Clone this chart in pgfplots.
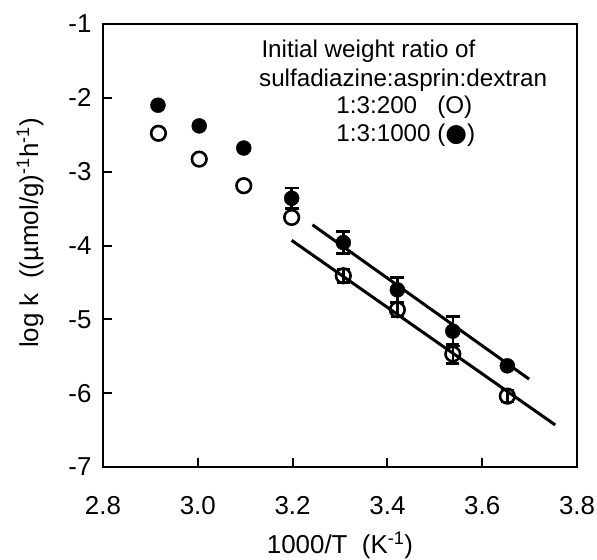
\documentclass[border=0pt]{standalone}
\usepackage{fontspec}
\setmainfont{Liberation Sans}
\newfontfamily\dejavu{DejaVu Sans}
\usepackage{pgfplots}
\pgfplotsset{compat=1.18}
\begin{document}
\begin{tikzpicture}
\useasboundingbox (-103bp,-93bp) rectangle (494bp,467bp);
\begin{axis}[
  width=474bp, height=443bp, scale only axis,
  xmin=2.8, xmax=3.8, ymin=-7, ymax=-1,
  xtick={2.8,3.0,3.2,3.4,3.6,3.8},
  ytick={-7,-6,-5,-4,-3,-2,-1},
  xtick pos=bottom, ytick pos=left,
  tick align=inside,
  major tick length=9bp,
  axis line style={line width=2.5bp},
  every tick/.style={line width=2bp, black},
  /pgf/number format/assume math mode=true,
  xticklabel style={/pgf/number format/fixed, /pgf/number format/fixed zerofill, /pgf/number format/precision=1, yshift=-26bp},
  tick label style={font=\fontsize{26}{30}\selectfont},
  yticklabel style={xshift=-8bp},
  label style={font=\fontsize{26}{30}\selectfont},
  xlabel={1000/T\ \ (K\textsuperscript{-1})},
  ylabel={log k\ \ ((µmol/g)\textsuperscript{-1}h\textsuperscript{-1})},
  xlabel style={at={(axis description cs:0.5,-0.178)}, anchor=center},
  ylabel style={at={(axis description cs:-0.154,0.528)}, anchor=center},
  clip=false,
]
% fitted lines
\addplot[black, line width=3bp] coordinates {(3.242,-3.72) (3.699,-5.81)};
\addplot[black, line width=3bp] coordinates {(3.198,-3.93) (3.754,-6.43)};
% 1:3:1000 filled, no error bars
\addplot[black, only marks, mark=*, mark size=7.5bp] coordinates {
  (2.916,-2.10) (3.003,-2.38) (3.097,-2.68) (3.653,-5.63)
  };
% 1:3:1000 filled, with error bars
\addplot[black, only marks, mark=*, mark size=7.5bp,
  error bars/.cd, y dir=both, y explicit,
  error bar style={line width=2.5bp},
  error mark options={rotate=90, mark size=7bp, line width=2.5bp}]
  coordinates {
  (3.198,-3.36) +- (0,0.14)
  (3.307,-3.96) +- (0,0.15)
  (3.421,-4.60) +- (0,0.17)
  (3.538,-5.16) +- (0,0.20)
  };
% 1:3:200 open, no error bars
\addplot[black, only marks, mark=o, mark size=7.3bp, mark options={line width=2.6bp}] coordinates {
  (2.917,-2.48) (3.003,-2.83) (3.097,-3.19) (3.198,-3.62)
  };
% 1:3:200 open, with error bars
\addplot[black, only marks, mark=o, mark size=7.3bp, mark options={line width=2.6bp},
  error bars/.cd, y dir=both, y explicit,
  error bar style={line width=2.5bp},
  error mark options={rotate=90, mark size=6.5bp, line width=2.5bp}]
  coordinates {
  (3.307,-4.41) +- (0,0.09)
  (3.421,-4.87) +- (0,0.10)
  (3.538,-5.47) +- (0,0.13)
  (3.653,-6.04) +- (0,0.08)
  };
\node[anchor=base west, font=\fontsize{24.3}{28}\selectfont, inner sep=0pt] at (axis cs:3.134,-1.447) {Initial weight ratio of};
\node[anchor=base west, font=\fontsize{24.3}{28}\selectfont, inner sep=0pt] at (axis cs:3.129,-1.847) {sulfadiazine:asprin:dextran};
\node[anchor=base west, font=\fontsize{24.3}{28}\selectfont, inner sep=0pt] at (axis cs:3.292,-2.206) {1:3:200\ \ \ (O)};
\node[anchor=base west, font=\fontsize{24.3}{28}\selectfont, inner sep=0pt] at (axis cs:3.292,-2.585) {1:3:1000 ({\dejavu\fontsize{25}{28}\selectfont ●})};
\end{axis}
\end{tikzpicture}
\end{document}
